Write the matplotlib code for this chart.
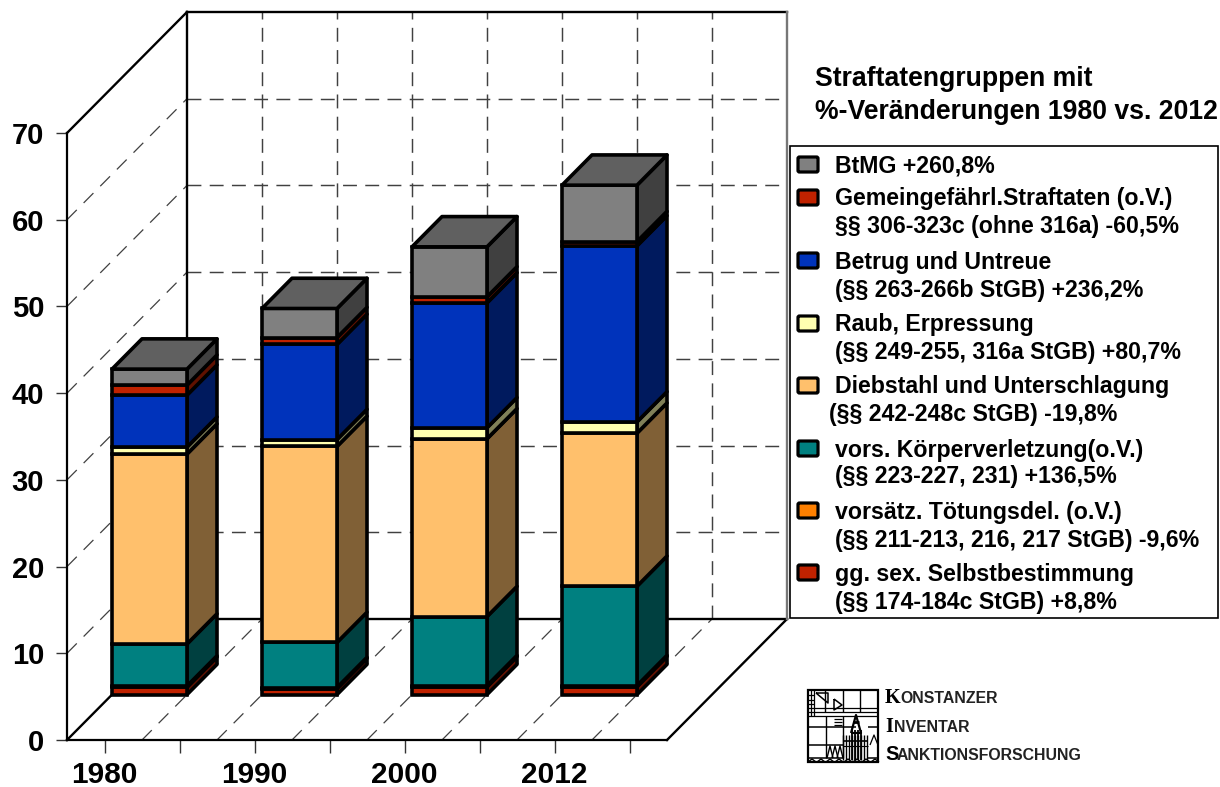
import matplotlib
matplotlib.use("Agg")
import matplotlib.pyplot as plt
from matplotlib.patches import Rectangle, FancyBboxPatch

plt.rcParams['font.family'] = ['Liberation Sans', 'DejaVu Sans']
plt.rcParams['lines.scale_dashes'] = False

# ---------- data ----------
years = ['1980', '1990', '2000', '2012']
sex_selbst = [0.85, 0.70, 0.90, 0.92]
toetung = [0.15, 0.12, 0.14, 0.13]
koerper = [4.84, 5.20, 7.96, 11.45]
diebstahl = [21.9, 22.6, 20.5, 17.65]
raub = [0.80, 0.80, 1.27, 1.30]
betrug = [6.0, 10.96, 14.4, 20.3]
gemein = [1.15, 0.80, 0.70, 0.50]
btmg = [1.85, 3.35, 5.77, 6.50]

series = [sex_selbst, toetung, koerper, diebstahl, raub, betrug, gemein, btmg]
front_colors = ['#C02200', '#FF8000', '#008080', '#FFC06C', '#FFFFB0', '#0033BB', '#C02200', '#808080']
side_colors = ['#601100', '#804000', '#004040', '#806036', '#808058', '#001A5E', '#601100', '#404040']
top_color = '#606060'

legend_colors = ['#808080', '#C02200', '#0033BB', '#FFFFB0', '#FFC06C', '#008080', '#FF8000', '#C02200']
legend_lines = [
    ['BtMG +260,8%'],
    ['Gemeingefährl.Straftaten (o.V.)', '§§ 306-323c (ohne 316a) -60,5%'],
    ['Betrug und Untreue', '(§§ 263-266b StGB) +236,2%'],
    ['Raub, Erpressung', '(§§ 249-255, 316a StGB) +80,7%'],
    ['Diebstahl und Unterschlagung', ' (§§ 242-248c StGB) -19,8%'],
    ['vors. Körperverletzung(o.V.)', '(§§ 223-227, 231) +136,5%'],
    ['vorsätz. Tötungsdel. (o.V.)', '(§§ 211-213, 216, 217 StGB) -9,6%'],
    ['gg. sex. Selbstbestimmung', '(§§ 174-184c StGB) +8,8%'],
]
title_lines = ['Straftatengruppen mit', '%-Veränderungen 1980 vs. 2012']
yticks = [0, 10, 20, 30, 40, 50, 60, 70]

# ---------- figure ----------
W, H = 1220, 787
fig = plt.figure(figsize=(W / 100, H / 100), dpi=100, facecolor='white')
ax = fig.add_axes([67 / W, (H - 740) / H, 600 / W, 607 / H])
ax.set_xlim(0, 4)
ax.set_ylim(0, 70)
ax.patch.set_visible(False)

DX = 120 / 150            # depth 1 in x data units
DY = 121 / 607 * 70       # depth 1 in y data units


def pr(x, y, d):
    return x + DX * d, y + DY * d


GRID_FLOOR = dict(color='#404040', lw=0.9, ls=(0, (10, 7)), clip_on=False, zorder=1)
GRID_BACK = dict(color='#404040', lw=1.05, ls=(0, (10, 6)), clip_on=False, zorder=1)
EDGE = dict(color='black', lw=1.7, clip_on=False, zorder=1.5)

# walls: gridlines
for v in yticks[1:]:
    xs, ys = zip(pr(0, v, 0), pr(0, v, 1))
    if v < 70:
        ax.plot(xs, ys, **GRID_FLOOR)
        xs, ys = zip(pr(0, v, 1), pr(4, v, 1))
        ax.plot(xs, ys, **GRID_BACK)
for k in range(1, 8):
    xs, ys = zip(pr(k / 2, 0, 0), pr(k / 2, 0, 1))
    ax.plot(xs, ys, **GRID_FLOOR)
    xs, ys = zip(pr(k / 2, 0, 1), pr(k / 2, 70, 1))
    ax.plot(xs, ys, **GRID_BACK)

# wall frame
for (a, b) in [((0, 0, 0), (0, 0, 1)), ((0, 70, 0), (0, 70, 1)), ((4, 0, 0), (4, 0, 1)),
               ((0, 0, 1), (4, 0, 1)), ((0, 70, 1), (4, 70, 1)), ((0, 0, 1), (0, 70, 1))]:
    xs, ys = zip(pr(*a), pr(*b))
    ax.plot(xs, ys, **EDGE)
xs, ys = zip(pr(4, 0, 1), pr(4, 70, 1))
ax.plot(xs, ys, color='#777777', lw=1.7, clip_on=False, zorder=1.5)

# bars
BAR_W = 0.5
D0, D1 = 0.375, 0.625
LW = 2.6
for i in range(len(years)):
    bottom = 0.0
    for vals, fc, sc in zip(series, front_colors, side_colors):
        top = bottom + vals[i]
        x0, y0 = pr(i, bottom, D0)
        x1, y1 = pr(i + BAR_W, top, D0)
        ax.fill([x1, x1 + DX * (D1 - D0), x1 + DX * (D1 - D0), x1],
                [y0, y0 + DY * (D1 - D0), y1 + DY * (D1 - D0), y1],
                facecolor=sc, edgecolor='black', lw=LW, clip_on=False, zorder=3 + i,
                joinstyle='round')
        ax.bar(x0, top - bottom, BAR_W, bottom=y0, align='edge', facecolor=fc,
               edgecolor='black', lw=LW, clip_on=False, zorder=3 + i, joinstyle='miter')
        bottom = top
    x0, y0 = pr(i, bottom, D0)
    x1 = x0 + BAR_W
    sx, sy = DX * (D1 - D0), DY * (D1 - D0)
    ax.fill([x0, x1, x1 + sx, x0 + sx], [y0, y0, y0 + sy, y0 + sy],
            facecolor=top_color, edgecolor='black', lw=LW, clip_on=False, zorder=3 + i,
            joinstyle='round')

# axes
for s in ['top', 'right']:
    ax.spines[s].set_visible(False)
for s in ['left', 'bottom']:
    ax.spines[s].set_linewidth(1.6)
ax.set_yticks(yticks)
ax.set_yticklabels([str(v) for v in yticks], fontsize=21, fontweight='bold')
ax.tick_params(axis='y', length=8, width=1.0, pad=8.5, color='#333333')
centers = [k + 0.25 for k in range(4)]
ax.set_xticks(centers)
ax.set_xticklabels(years, fontsize=21.5, fontweight='bold')
ax.set_xticks([k + 0.75 for k in range(4)], minor=True)
ax.tick_params(axis='x', which='both', length=9, width=1.0, pad=6, color='#333333')

# overlay in pixel coordinates for legend, title, logo
ov = fig.add_axes([0, 0, 1, 1])
ov.set_xlim(0, W)
ov.set_ylim(H, 0)
ov.axis('off')

ov.text(815, 79, title_lines[0], fontsize=19.2, fontweight='bold', va='center', ha='left')
ov.text(815, 112, title_lines[1], fontsize=19.2, fontweight='bold', va='center', ha='left')

ov.add_patch(Rectangle((790, 146), 428, 472, facecolor='white', edgecolor='black', lw=1.2, zorder=2))
line_y = [[165], [198, 226], [261, 289], [324, 351], [386, 414], [449, 476], [511, 539], [573, 601]]
for col, lines, ys in zip(legend_colors, legend_lines, line_y):
    ov.add_patch(FancyBboxPatch((798, ys[0] - 8), 20, 15, boxstyle='round,pad=0,rounding_size=1.5',
                                facecolor=col, edgecolor='black', lw=2.3, zorder=3))
    for t, y in zip(lines, ys):
        ov.text(835 if not t.startswith(' ') else 829, y + 1, t.strip(), fontsize=16.7, fontweight='bold',
                va='center', ha='left', zorder=3)

# logo
LC = 'black'


def seg(pts, lw=1.0):
    xs, ys = zip(*pts)
    ov.plot(xs, ys, color=LC, lw=lw, solid_capstyle='butt')


ov.add_patch(Rectangle((808, 690), 70, 72, fill=False, edgecolor='black', lw=1.6))
for x in [825, 843, 860]:
    seg([(x, 690), (x, 712)])
for y in [708, 712, 716]:
    seg([(808, y), (878, y)], 0.9)
for y in [727, 745, 758]:
    seg([(808, y), (843, y)], 1.1)
seg([(868, 758), (878, 758)], 1.1)
seg([(868, 727), (878, 727)], 1.1)
seg([(843, 727), (856, 727)], 1.1)
seg([(826, 716), (826, 758)], 1.0)
seg([(843, 716), (843, 758)], 1.0)
for x in [811, 814]:
    seg([(x, 690), (x, 716)], 0.9)
for y in [695, 700, 704]:
    seg([(808, y), (814, y)], 0.9)
seg([(816, 693), (828, 693), (828, 703), (816, 693)], 1.1)
seg([(834, 699), (842, 705), (834, 710), (834, 699)], 1.1)
for y in [719, 722, 725]:
    seg([(834, y), (842, y)], 0.9)
# cathedral
seg([(851, 733), (856, 715), (861, 733), (851, 733)], 1.6)
seg([(853, 722), (859, 722)], 2.0)
for x in range(843, 869, 3):
    seg([(x, 735), (x, 760)], 1.0)
for x in [852, 855, 858, 861]:
    seg([(x, 730), (x, 760)], 1.3)
seg([(843, 741), (868, 741)], 1.2)
seg([(843, 746), (868, 746)], 0.8)
seg([(870, 745), (874, 735), (878, 745)], 0.9)
for x in [827, 832, 837]:
    seg([(x, 758), (x + 3, 746), (x + 6, 758)], 1.0)
for x in range(808, 878, 9):
    seg([(x, 762), (x + 4, 759), (x + 8, 762)], 1.0)

for big, small, y, xs in [('K', 'ONSTANZER', 698, 900), ('I', 'NVENTAR', 727, 894), ('S', 'ANKTIONSFORSCHUNG', 755, 897)]:
    ov.text(885, y, big, family=['Liberation Serif'] if big != 'S' else ['Liberation Sans'],
            fontsize=14.5, fontweight='bold', va='center', ha='left')
    ov.text(xs, y + 0.5, small, fontsize=11.4, fontweight='bold', va='center', ha='left', color='#222222')

fig.savefig('out.png', dpi=100, facecolor='white')
